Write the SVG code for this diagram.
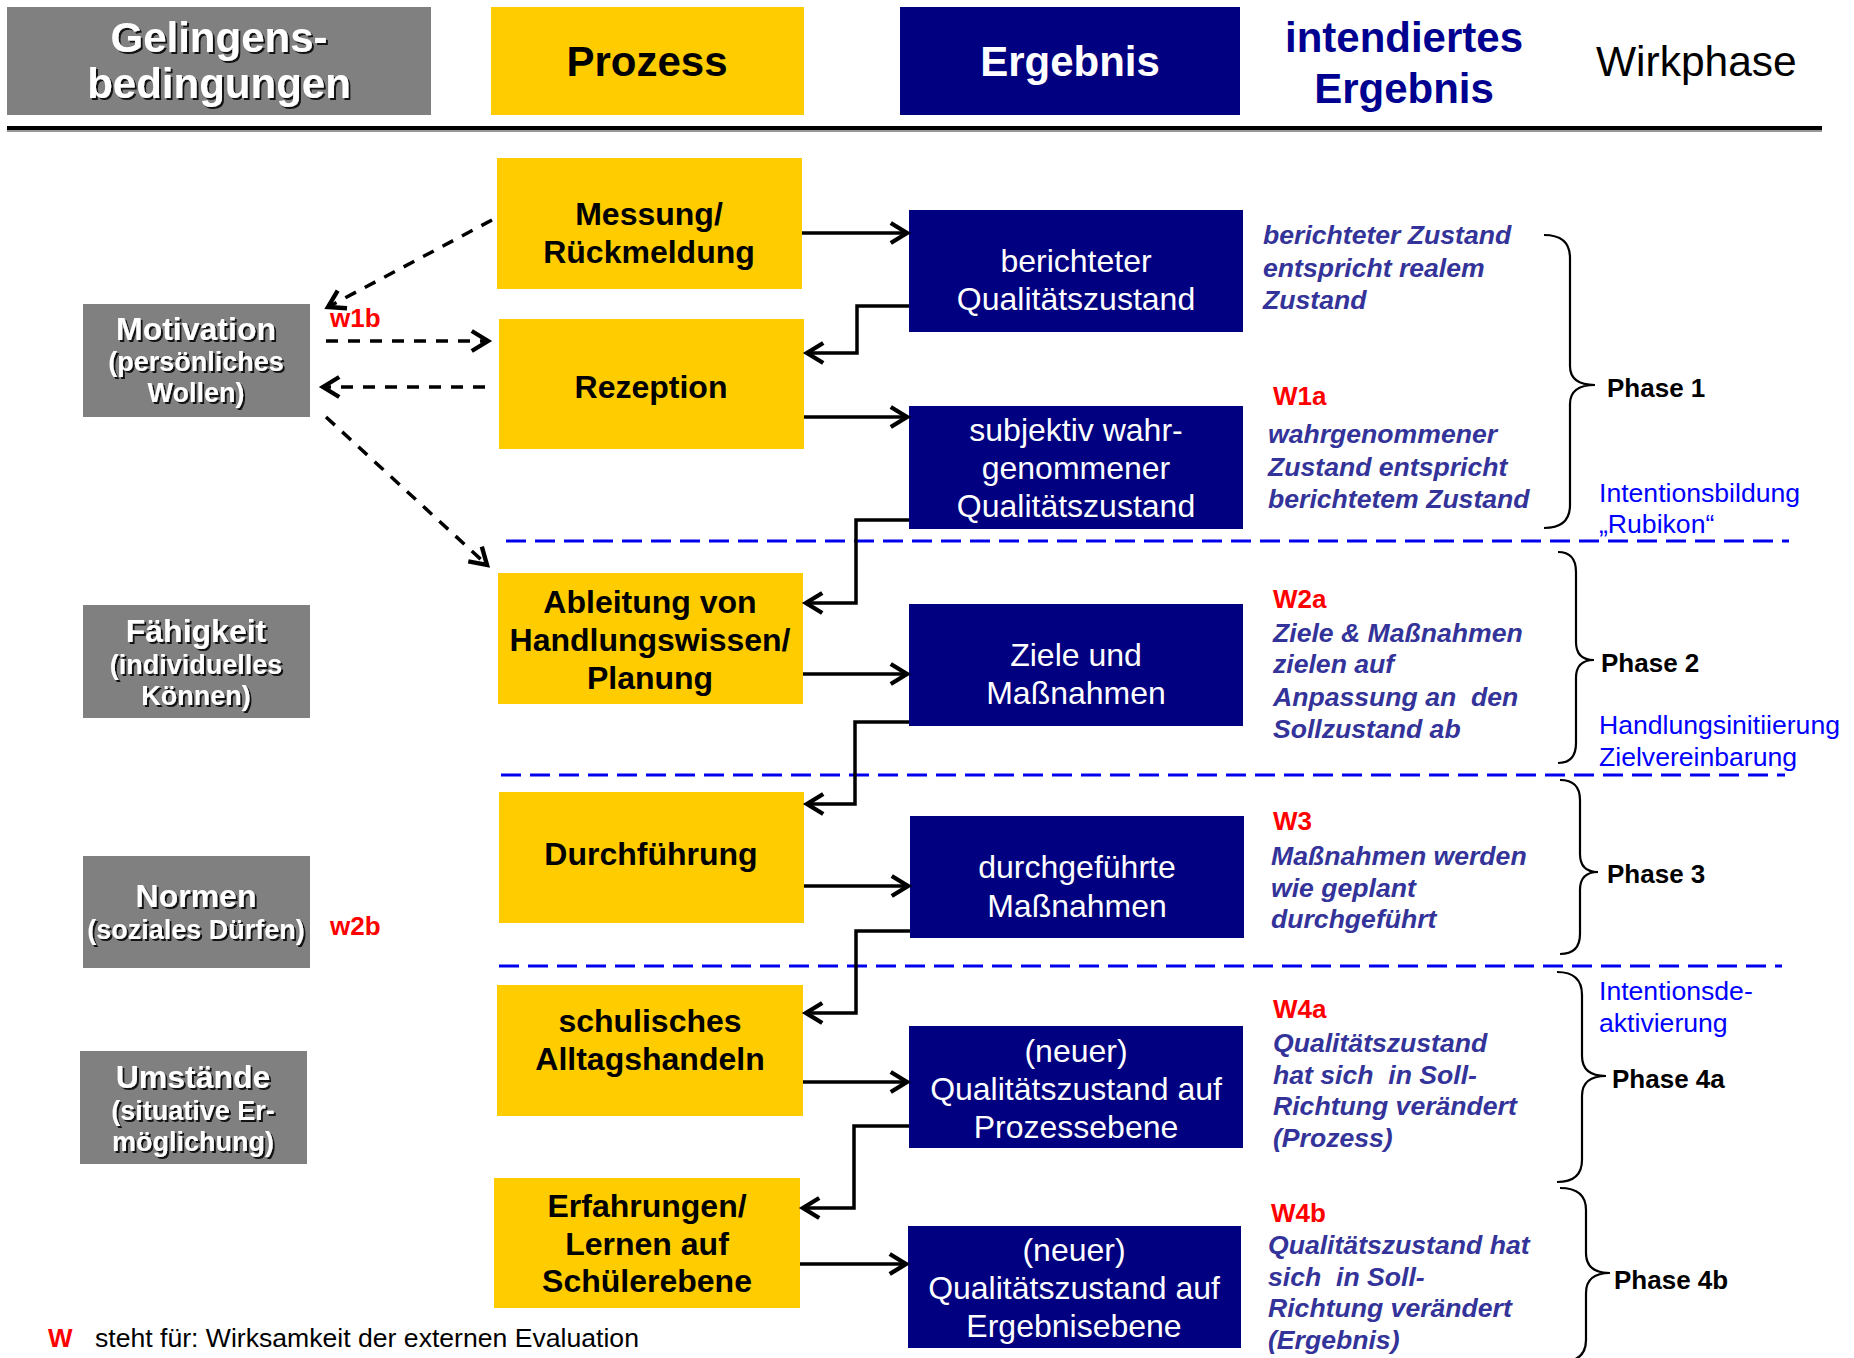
<svg xmlns="http://www.w3.org/2000/svg" width="1854" height="1358" viewBox="0 0 1854 1358">
<style>
text{font-family:"Liberation Sans",Arial,sans-serif}
.hdr{font-size:42px;font-weight:bold;text-anchor:middle}
.gray{fill:#808080}
.yel{fill:#FFCC00}
.navy{fill:#000080}
.gt{fill:#fff;font-weight:bold;text-anchor:middle;filter:url(#sh)}
.gt1{font-size:32px}
.gt2{font-size:27px}
.yt{fill:#000;font-weight:bold;font-size:32px;text-anchor:middle}
.nt{fill:#fff;font-size:32px;text-anchor:middle}
.it{fill:#333399;font-size:26.6px;font-weight:bold;font-style:italic}
.w{fill:#FF0000;font-size:26px;font-weight:bold}
.ph{fill:#000;font-size:26px;font-weight:bold}
.bl{fill:#0000FF;font-size:26.6px}
.con{fill:none;stroke:#000;stroke-width:3.5}
.dash{fill:none;stroke:#000;stroke-width:3.5;stroke-dasharray:12 10}
.sep{fill:none;stroke:#0000EE;stroke-width:3;stroke-dasharray:20 9}
.br{fill:none;stroke:#000;stroke-width:2.2}
</style>
<defs>
<filter id="sh" x="-10%" y="-20%" width="130%" height="150%">
<feDropShadow dx="2" dy="2" stdDeviation="0.7" flood-color="#000" flood-opacity="0.85"/>
</filter>
<marker id="ah" markerUnits="userSpaceOnUse" markerWidth="30" markerHeight="30" refX="0" refY="0" viewBox="-16 -12 20 24" orient="auto">
<path d="M-13,-8 L0,0 L-13,8" fill="none" stroke="#000" stroke-width="3.5" stroke-dasharray="none"/>
</marker>
</defs>
<rect width="1854" height="1358" fill="#fff"/>

<g id="header">
<rect class="gray" x="7" y="7" width="424" height="108"/>
<text class="hdr" x="219" y="52" fill="#fff" filter="url(#sh)">Gelingens-</text>
<text class="hdr" x="219" y="98" fill="#fff" filter="url(#sh)">bedingungen</text>
<rect class="yel" x="491" y="7" width="313" height="108"/>
<text class="hdr" x="647" y="76" fill="#000">Prozess</text>
<rect class="navy" x="900" y="7" width="340" height="108"/>
<text class="hdr" x="1070" y="76" fill="#fff">Ergebnis</text>
<text class="hdr" x="1404" y="52" fill="#000090">intendiertes</text>
<text class="hdr" x="1404" y="103" fill="#000090">Ergebnis</text>
<text x="1596" y="76" font-size="42.5" fill="#000">Wirkphase</text>
<line x1="7" y1="131" x2="1822" y2="131" stroke="#999" stroke-width="2"/>
<line x1="7" y1="128" x2="1822" y2="128" stroke="#000" stroke-width="4"/>
</g>

<g id="motivation">
<rect class="gray" x="83" y="304" width="227" height="113"/>
<text class="gt gt1" x="196" y="340">Motivation</text>
<text class="gt gt2" x="196" y="371">(persönliches</text>
<text class="gt gt2" x="196" y="402">Wollen)</text>
</g>
<g id="faehigkeit">
<rect class="gray" x="83" y="605" width="227" height="113"/>
<text class="gt gt1" x="196" y="642">Fähigkeit</text>
<text class="gt gt2" x="196" y="674">(individuelles</text>
<text class="gt gt2" x="196" y="705">Können)</text>
</g>
<g id="normen">
<rect class="gray" x="83" y="856" width="227" height="112"/>
<text class="gt gt1" x="196" y="907">Normen</text>
<text class="gt gt2" x="196" y="939">(soziales Dürfen)</text>
</g>
<g id="umstaende">
<rect class="gray" x="80" y="1051" width="227" height="113"/>
<text class="gt gt1" x="193" y="1088">Umstände</text>
<text class="gt gt2" x="193" y="1120">(situative Er-</text>
<text class="gt gt2" x="193" y="1151">möglichung)</text>
</g>

<g id="messung">
<rect class="yel" x="497" y="158" width="305" height="131"/>
<text class="yt" x="649" y="225">Messung/</text>
<text class="yt" x="649" y="263">Rückmeldung</text>
</g>
<g id="rezeption">
<rect class="yel" x="499" y="319" width="305" height="130"/>
<text class="yt" x="651" y="398">Rezeption</text>
</g>
<g id="ableitung">
<rect class="yel" x="498" y="573" width="305" height="131"/>
<text class="yt" x="650" y="613">Ableitung von</text>
<text class="yt" x="650" y="651">Handlungswissen/</text>
<text class="yt" x="650" y="689">Planung</text>
</g>
<g id="durchfuehrung">
<rect class="yel" x="499" y="792" width="305" height="131"/>
<text class="yt" x="651" y="865">Durchführung</text>
</g>
<g id="alltag">
<rect class="yel" x="497" y="985" width="306" height="131"/>
<text class="yt" x="650" y="1032">schulisches</text>
<text class="yt" x="650" y="1070">Alltagshandeln</text>
</g>
<g id="erfahrungen">
<rect class="yel" x="494" y="1178" width="306" height="130"/>
<text class="yt" x="647" y="1217">Erfahrungen/</text>
<text class="yt" x="647" y="1255">Lernen auf</text>
<text class="yt" x="647" y="1292">Schülerebene</text>
</g>

<g id="berichtet">
<rect class="navy" x="909" y="210" width="334" height="122"/>
<text class="nt" x="1076" y="272">berichteter</text>
<text class="nt" x="1076" y="310">Qualitätszustand</text>
</g>
<g id="subjektiv">
<rect class="navy" x="909" y="406" width="334" height="123"/>
<text class="nt" x="1076" y="441">subjektiv wahr-</text>
<text class="nt" x="1076" y="479">genommener</text>
<text class="nt" x="1076" y="517">Qualitätszustand</text>
</g>
<g id="ziele">
<rect class="navy" x="909" y="604" width="334" height="122"/>
<text class="nt" x="1076" y="666">Ziele und</text>
<text class="nt" x="1076" y="704">Maßnahmen</text>
</g>
<g id="durchgefuehrt">
<rect class="navy" x="910" y="816" width="334" height="122"/>
<text class="nt" x="1077" y="878">durchgeführte</text>
<text class="nt" x="1077" y="917">Maßnahmen</text>
</g>
<g id="neuprozess">
<rect class="navy" x="909" y="1026" width="334" height="122"/>
<text class="nt" x="1076" y="1062">(neuer)</text>
<text class="nt" x="1076" y="1100">Qualitätszustand auf</text>
<text class="nt" x="1076" y="1138">Prozessebene</text>
</g>
<g id="neuergebnis">
<rect class="navy" x="908" y="1226" width="333" height="122"/>
<text class="nt" x="1074" y="1261">(neuer)</text>
<text class="nt" x="1074" y="1299">Qualitätszustand auf</text>
<text class="nt" x="1074" y="1337">Ergebnisebene</text>
</g>

<g id="intended">
<text class="it" x="1263" y="244">berichteter Zustand</text>
<text class="it" x="1263" y="277">entspricht realem</text>
<text class="it" x="1263" y="309">Zustand</text>
<text class="w" x="1273" y="405">W1a</text>
<text class="it" x="1268" y="443">wahrgenommener</text>
<text class="it" x="1268" y="476">Zustand entspricht</text>
<text class="it" x="1268" y="508">berichtetem Zustand</text>
<text class="w" x="1273" y="608">W2a</text>
<text class="it" x="1273" y="642">Ziele &amp; Maßnahmen</text>
<text class="it" x="1273" y="673">zielen auf</text>
<text class="it" x="1273" y="706" xml:space="preserve">Anpassung an  den</text>
<text class="it" x="1273" y="738">Sollzustand ab</text>
<text class="w" x="1273" y="830">W3</text>
<text class="it" x="1271" y="865">Maßnahmen werden</text>
<text class="it" x="1271" y="897">wie geplant</text>
<text class="it" x="1271" y="928">durchgeführt</text>
<text class="w" x="1273" y="1018">W4a</text>
<text class="it" x="1273" y="1052">Qualitätszustand</text>
<text class="it" x="1273" y="1084" xml:space="preserve">hat sich  in Soll-</text>
<text class="it" x="1273" y="1115">Richtung verändert</text>
<text class="it" x="1273" y="1147">(Prozess)</text>
<text class="w" x="1271" y="1222">W4b</text>
<text class="it" x="1268" y="1254">Qualitätszustand hat</text>
<text class="it" x="1268" y="1286" xml:space="preserve">sich  in Soll-</text>
<text class="it" x="1268" y="1317">Richtung verändert</text>
<text class="it" x="1268" y="1349">(Ergebnis)</text>
</g>

<g id="phases">
<path class="br" d="M1544,235 Q1570,235 1570,258 L1570,366 Q1570,385 1595,385 Q1570,385 1570,404 L1570,505 Q1570,528 1544,528"/>
<text class="ph" x="1607" y="397">Phase 1</text>
<text class="bl" x="1599" y="502">Intentionsbildung</text>
<text class="bl" x="1599" y="533">„Rubikon“</text>
<path class="br" d="M1558,552 Q1576,552 1576,572 L1576,642 Q1576,660 1594,660 Q1576,660 1576,678 L1576,743 Q1576,763 1558,763"/>
<text class="ph" x="1601" y="672">Phase 2</text>
<text class="bl" x="1599" y="734">Handlungsinitiierung</text>
<text class="bl" x="1599" y="766">Zielvereinbarung</text>
<path class="br" d="M1560,780 Q1580,780 1580,800 L1580,854 Q1580,872 1598,872 Q1580,872 1580,890 L1580,934 Q1580,954 1560,954"/>
<text class="ph" x="1607" y="883">Phase 3</text>
<path class="br" d="M1557,972 Q1582,972 1582,995 L1582,1056 Q1582,1076 1606,1076 Q1582,1076 1582,1096 L1582,1160 Q1582,1182 1557,1182"/>
<text class="bl" x="1599" y="1000">Intentionsde-</text>
<text class="bl" x="1599" y="1032">aktivierung</text>
<text class="ph" x="1612" y="1088">Phase 4a</text>
<path class="br" d="M1560,1188 Q1586,1188 1586,1210 L1586,1253 Q1586,1273 1610,1273 Q1586,1273 1586,1293 L1586,1340 Q1586,1362 1560,1362"/>
<text class="ph" x="1614" y="1289">Phase 4b</text>
</g>

<g id="separators">
<line class="sep" x1="506" y1="541" x2="1789" y2="541"/>
<line class="sep" x1="501" y1="775" x2="1785" y2="775"/>
<line class="sep" x1="499" y1="966" x2="1782" y2="966"/>
</g>

<g id="connectors">
<path class="con" d="M802,233 H907" marker-end="url(#ah)"/>
<path class="con" d="M909,306 H857 V353 H807" marker-end="url(#ah)"/>
<path class="con" d="M804,417 H907" marker-end="url(#ah)"/>
<path class="con" d="M909,520 H856 V603 H806" marker-end="url(#ah)"/>
<path class="con" d="M803,674 H907" marker-end="url(#ah)"/>
<path class="con" d="M909,722 H855 V804 H807" marker-end="url(#ah)"/>
<path class="con" d="M804,886 H908" marker-end="url(#ah)"/>
<path class="con" d="M910,931 H856 V1013 H806" marker-end="url(#ah)"/>
<path class="con" d="M803,1082 H907" marker-end="url(#ah)"/>
<path class="con" d="M909,1126 H854 V1208 H803" marker-end="url(#ah)"/>
<path class="con" d="M800,1264 H906" marker-end="url(#ah)"/>
<path class="dash" d="M492,220 L328,307" marker-end="url(#ah)"/>
<path class="dash" d="M326,341 H488" marker-end="url(#ah)"/>
<path class="dash" d="M485,387 H323" marker-end="url(#ah)"/>
<path class="dash" d="M326,417 L487,565" marker-end="url(#ah)"/>
</g>

<g id="labels">
<text class="w" x="330" y="327">w1b</text>
<text class="w" x="330" y="935">w2b</text>
<text class="w" x="48" y="1347">W</text>
<text x="95" y="1347" font-size="26.6" fill="#000">steht für: Wirksamkeit der externen Evaluation</text>
</g>
</svg>
